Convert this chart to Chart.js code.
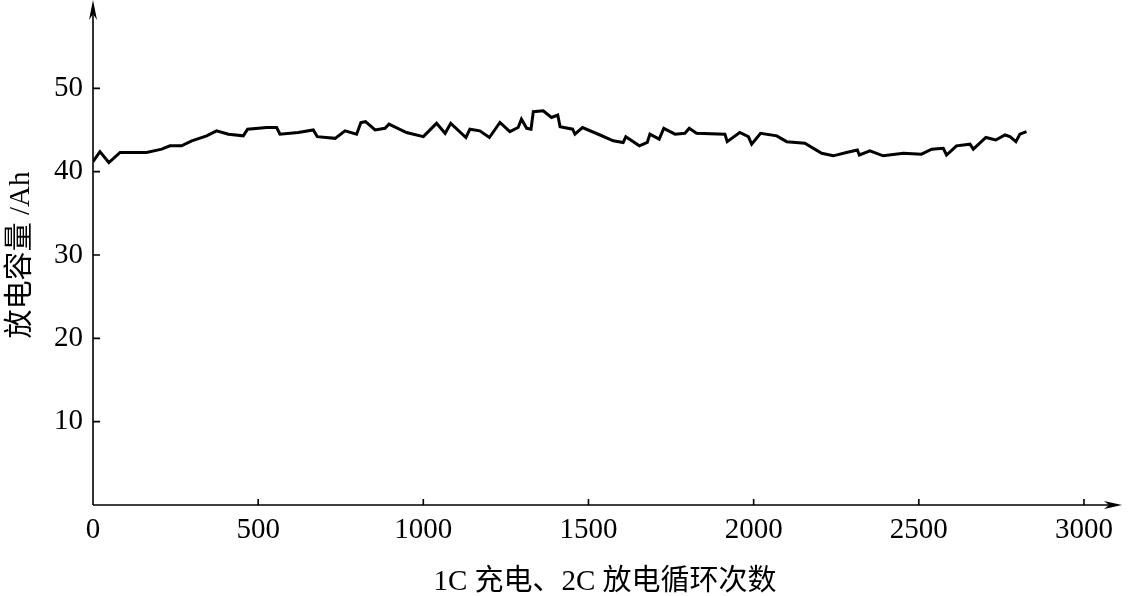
<!DOCTYPE html>
<html>
<head>
<meta charset="utf-8">
<script src="https://cdn.jsdelivr.net/npm/chart.js@4.4.1/dist/chart.umd.min.js"></script>
<style>
  html, body { margin: 0; padding: 0; background: #fff; }
  #wrap { width: 1134px; height: 596px; }
</style>
</head>
<body>
<div id="wrap"><canvas id="capChart"></canvas></div>
<script>
// ------------------ Data ------------------

const cycles = [0, 21, 48, 82, 162, 208, 233, 268, 299, 344, 374, 410, 455, 468, 526, 556, 566, 621, 667, 679,
  733, 763, 798, 811, 825, 854, 884, 896, 949, 1000, 1040, 1066, 1083, 1129, 1141, 1171, 1200, 1232, 1262, 1287,
  1297, 1313, 1326, 1333, 1363, 1388, 1407, 1414, 1452, 1459, 1482, 1535, 1575, 1605, 1613, 1654, 1678, 1686, 1714, 1728,
  1762, 1792, 1805, 1827, 1913, 1920, 1958, 1984, 1994, 2021, 2070, 2100, 2155, 2206, 2241, 2281, 2314, 2320, 2352, 2392,
  2453, 2508, 2539, 2574, 2584, 2614, 2655, 2665, 2703, 2733, 2761, 2776, 2794, 2806, 2826];
const capacity = [41.2, 42.4, 41.1, 42.3, 42.3, 42.7, 43.1, 43.1, 43.7, 44.3, 44.9, 44.5, 44.3, 45.1, 45.3, 45.3, 44.5, 44.7, 45.0, 44.2,
  44.0, 44.9, 44.5, 45.9, 46.0, 45.0, 45.2, 45.7, 44.7, 44.2, 45.8, 44.6, 45.8, 44.1, 45.1, 44.9, 44.1, 45.9, 44.8, 45.3,
  46.3, 45.2, 45.1, 47.2, 47.3, 46.5, 46.8, 45.4, 45.1, 44.5, 45.3, 44.4, 43.7, 43.5, 44.2, 43.1, 43.5, 44.5, 43.9, 45.2,
  44.5, 44.6, 45.2, 44.6, 44.5, 43.6, 44.7, 44.2, 43.3, 44.6, 44.3, 43.6, 43.4, 42.2, 41.9, 42.3, 42.6, 42.0, 42.5, 41.9,
  42.2, 42.1, 42.7, 42.8, 42.0, 43.1, 43.3, 42.7, 44.1, 43.8, 44.4, 44.2, 43.6, 44.5, 44.8];

const xTicks = [0, 500, 1000, 1500, 2000, 2500, 3000];
const yTicks = [10, 20, 30, 40, 50];

const xTitle = "1C 充电、2C 放电循环次数";
const yTitle = "放电容量 /Ah";

const serif = '"Liberation Serif", "Times New Roman", "Noto Sans CJK SC", serif';

// ------------------ Axes with arrows and inward ticks ------------------

const axisPlugin = {
  id: 'axisArrows',
  afterDraw(chart) {
    const ctx = chart.ctx;
    const x = chart.scales.x, y = chart.scales.y;
    const x0 = x.getPixelForValue(0), y0 = y.getPixelForValue(0);
    const right = 1122, top = 0;
    ctx.save();
    ctx.strokeStyle = '#000';
    ctx.fillStyle = '#000';
    ctx.lineWidth = 1.6;
    ctx.beginPath();
    ctx.moveTo(x0, y0); ctx.lineTo(right - 6, y0);
    ctx.moveTo(x0, y0); ctx.lineTo(x0, top + 6);
    // ticks pointing inwards
    xTicks.forEach(v => {
      if (v === 0) return;
      const px = x.getPixelForValue(v);
      ctx.moveTo(px, y0); ctx.lineTo(px, y0 - 6);
    });
    yTicks.forEach(v => {
      const py = y.getPixelForValue(v);
      ctx.moveTo(x0, py); ctx.lineTo(x0 + 7, py);
    });
    ctx.stroke();
    // arrow heads
    ctx.beginPath();
    ctx.moveTo(right, y0); ctx.lineTo(right - 18, y0 - 4); ctx.lineTo(right - 13, y0); ctx.lineTo(right - 18, y0 + 4);
    ctx.closePath(); ctx.fill();
    ctx.beginPath();
    ctx.moveTo(x0, top); ctx.lineTo(x0 - 4, top + 20); ctx.lineTo(x0, top + 14); ctx.lineTo(x0 + 4, top + 20);
    ctx.closePath(); ctx.fill();
    ctx.restore();
  }
};

// ------------------ Chart ------------------

const ctx = document.getElementById('capChart').getContext('2d');
new Chart(ctx, {
  type: 'line',
  data: {
    datasets: [{
      data: cycles.map((c, i) => ({ x: c, y: capacity[i] })),
      borderColor: '#000',
      borderWidth: 3,
      pointRadius: 0,
      tension: 0,
      fill: false
    }]
  },
  options: {
    responsive: true,
    maintainAspectRatio: false,
    animation: false,
    events: [],
    layout: { padding: { top: 5, right: 17, left: 0, bottom: 0 } },
    plugins: { legend: { display: false }, tooltip: { enabled: false } },
    scales: {
      x: {
        type: 'linear',
        min: 0,
        max: 3100,
        afterBuildTicks: s => { s.ticks = xTicks.map(v => ({ value: v })); },
        afterFit: s => { s.height = 91; s.paddingLeft = 0; s.paddingRight = 0; },
        grid: { display: false, drawTicks: false },
        border: { display: false },
        ticks: { color: '#000', padding: 8, maxRotation: 0, autoSkip: false,
          font: { family: serif, size: 29 }, callback: v => String(v) },
        title: { display: true, text: xTitle, color: '#000', padding: { top: 12, bottom: -4 }, font: { family: serif, size: 29 } }
      },
      y: {
        min: 0,
        max: 60,
        afterBuildTicks: s => { s.ticks = yTicks.map(v => ({ value: v })); },
        afterFit: s => { s.width = 93; s.paddingTop = 0; s.paddingBottom = 0; },
        grid: { display: false, drawTicks: false },
        border: { display: false },
        ticks: { color: '#000', padding: 10, font: { family: serif, size: 29 }, callback: v => String(v) },
        title: { display: true, text: yTitle, color: '#000', padding: { bottom: 0 }, font: { family: serif, size: 29 } }
      }
    }
  },
  plugins: [axisPlugin]
});
</script>
</body>
</html>
